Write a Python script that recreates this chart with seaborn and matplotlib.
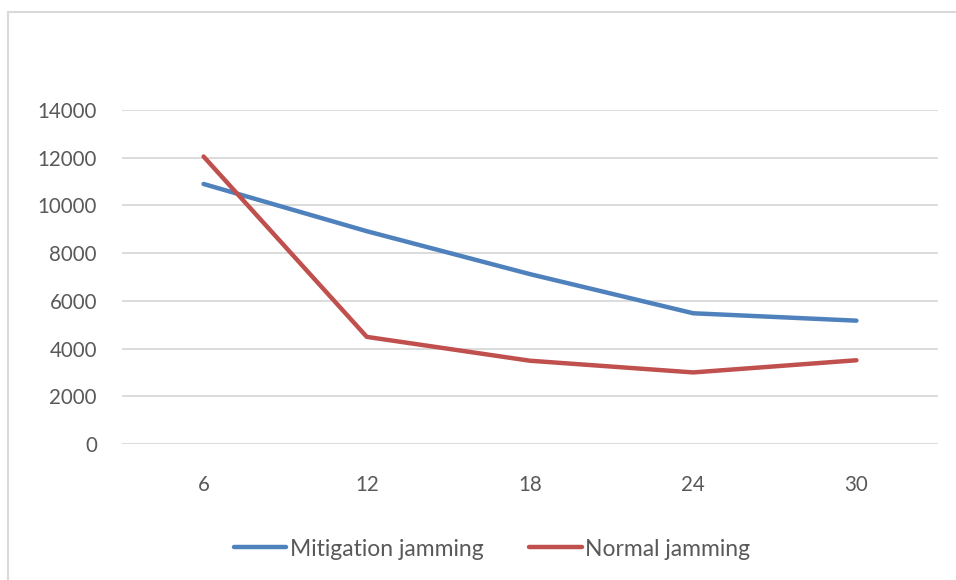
import pandas as pd
import matplotlib
matplotlib.use("Agg")
import matplotlib.pyplot as plt
import seaborn as sns
from matplotlib.lines import Line2D

# data
categories = ["6", "12", "18", "24", "30"]
mitigation = [10900, 8920, 7120, 5480, 5170]
normal = [12050, 4490, 3490, 3000, 3510]
y_ticks = [0, 2000, 4000, 6000, 8000, 10000, 12000, 14000]

df = pd.DataFrame({
    "x": categories * 2,
    "value": mitigation + normal,
    "series": ["Mitigation jamming"] * 5 + ["Normal jamming"] * 5,
})

sns.set_style("white")
plt.rcParams["font.family"] = ["Lato", "DejaVu Sans"]

fig = plt.figure(figsize=(9.56, 5.8), dpi=100)
ax = fig.add_axes([0.1276, 0.2345, 0.8536, 0.5758])

palette = {"Mitigation jamming": "#4F81BD", "Normal jamming": "#C0504D"}
sns.lineplot(data=df, x="x", y="value", hue="series", palette=palette,
             linewidth=3.2, sort=False, ax=ax, legend=False,
             solid_capstyle="round", solid_joinstyle="round")

ax.set_xlim(-0.5, 4.5)
ax.set_ylim(0, 14000)
ax.set_yticks(y_ticks)
ax.set_yticklabels([str(t) for t in y_ticks])
ax.yaxis.grid(True, color="#D9D9D9", linewidth=1.3)
ax.set_axisbelow(True)
for s in ax.spines.values():
    s.set_visible(False)
ax.tick_params(axis="both", length=0, labelsize=14.8, labelcolor="#595959")
ax.tick_params(axis="y", pad=18)
ax.tick_params(axis="x", pad=22)
ax.set_xlabel("")
ax.set_ylabel("")

# outer chart frame (top and left edges visible)
fig.add_artist(Line2D([8 / 956, 1], [1 - 11.5 / 580, 1 - 11.5 / 580],
                      color="#D9D9D9", linewidth=1.5, transform=fig.transFigure))
fig.add_artist(Line2D([8 / 956, 8 / 956], [0, 1 - 11.5 / 580],
                      color="#D9D9D9", linewidth=1.5, transform=fig.transFigure))

handles = [Line2D([0], [0], color=palette[k], linewidth=3.2) for k in palette]
fig.legend(handles, list(palette.keys()), loc="center", bbox_to_anchor=(492 / 956, 1 - 549 / 580),
           ncol=2, frameon=False, fontsize=16.5, labelcolor="#595959",
           handlelength=2.3, handletextpad=0.15, columnspacing=2.0)

fig.savefig("out.png", dpi=100)
